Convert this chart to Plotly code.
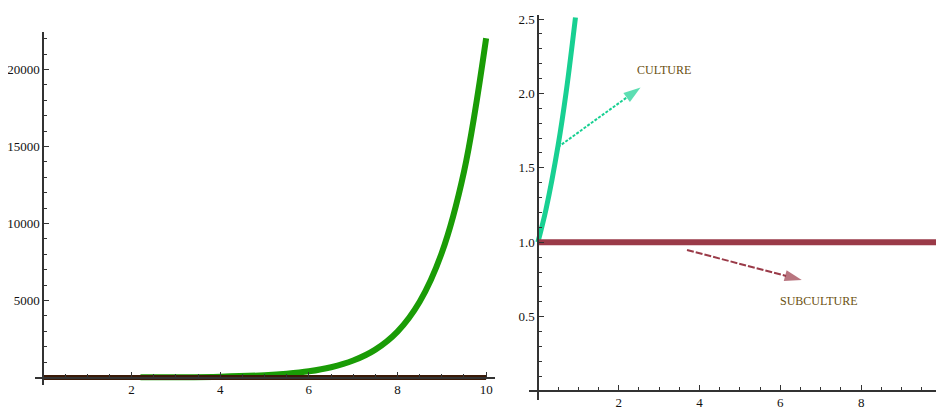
import plotly.graph_objects as go

# page is opened at 944x414; the HTML body adds an 8px margin, so the figure is 8px smaller
PAGE_W, PAGE_H = 944, 414
OFF = 8
W, H = PAGE_W - OFF, PAGE_H - OFF

# ---------------- data ----------------
# left panel
growth_x = [2.2, 3, 4, 5, 5.5, 6, 6.5, 7, 7.5, 8, 8.5, 9, 9.5, 10]
growth_y = [9, 20, 55, 150, 245, 400, 665, 1100, 1810, 2980, 4920, 8100, 13360, 22030]
base_x = [0, 10]
base_y = [0, 0]
left_xticks = [2, 4, 6, 8, 10]
left_yticks = [5000, 10000, 15000, 20000]

# right panel
culture_x = [0, 0.2, 0.5, 0.7, 0.93]
culture_y = [1.0, 1.22, 1.65, 2.01, 2.51]
subculture_x = [0, 10.1]
subculture_y = [1.0, 1.0]
right_xticks = [2, 4, 6, 8, 10]
right_yticks = [0.5, 1.0, 1.5, 2.0, 2.5]

culture_arrow_x = [0.50, 2.54]
culture_arrow_y = [1.64, 2.04]
sub_arrow_x = [3.69, 6.53]
sub_arrow_y = [0.948, 0.746]

label_text = ["CULTURE", "SUBCULTURE"]
label_x = [3.12, 6.96]
label_y = [2.16, 0.605]

# ---------------- colours ----------------
GREEN = "#1a9c06"
BROWN = "#3b1a08"
TEAL = "#18d092"
MAROON = "#9a3a48"
OLIVE = "#6a500f"
AXIS = "#333333"
FONT = "Liberation Serif"

fig = go.Figure()

# left traces
fig.add_trace(go.Scatter(x=growth_x, y=growth_y, mode="lines", line=dict(color=GREEN, width=6, shape="spline"),
                         xaxis="x", yaxis="y", showlegend=False, hoverinfo="skip"))
fig.add_trace(go.Scatter(x=base_x, y=base_y, mode="lines", line=dict(color=BROWN, width=5),
                         xaxis="x", yaxis="y", showlegend=False, hoverinfo="skip"))

# right traces
fig.add_trace(go.Scatter(x=culture_x, y=culture_y, mode="lines", line=dict(color=TEAL, width=5, shape="spline"),
                         xaxis="x2", yaxis="y2", showlegend=False, hoverinfo="skip"))
fig.add_trace(go.Scatter(x=subculture_x, y=subculture_y, mode="lines", line=dict(color=MAROON, width=6),
                         xaxis="x2", yaxis="y2", showlegend=False, hoverinfo="skip"))

# arrows
for ax_, ay_, col, dash in [(culture_arrow_x, culture_arrow_y, TEAL, "3px,1.5px"),
                            (sub_arrow_x, sub_arrow_y, MAROON, "7px,2px")]:
    fig.add_trace(go.Scatter(x=ax_, y=ay_, mode="lines+markers",
                             line=dict(color=col, width=2, dash=dash),
                             marker=dict(symbol="arrow", size=[0, 18], color=col, angleref="previous",
                                         line=dict(width=0)),
                             xaxis="x2", yaxis="y2", showlegend=False, hoverinfo="skip"))

for t, x, y in zip(label_text, label_x, label_y):
    fig.add_annotation(x=x, y=y, xref="x2", yref="y2", text=t, showarrow=False,
                       font=dict(family=FONT, size=12, color=OLIVE))

# ---------------- axes geometry (page-pixel based) ----------------
def fx(px):
    return (px - OFF) / W

def fy(py):
    return (H - (py - OFF)) / H

common = dict(showline=True, linecolor=AXIS, linewidth=1.5, ticks="inside", tickcolor=AXIS,
              ticklen=5, tickwidth=1, showgrid=False, zeroline=False, ticklabeloverflow="allow",
              tickfont=dict(family=FONT, size=13, color="#111111"))

fig.update_layout(
    # left panel: x=0 at px 43, 44.3 px/unit ; y=0 at py 377.5
    xaxis=dict(domain=[fx(35), fx(495)], range=[-0.18, 10.2], anchor="free", position=fy(377.5),
               tickmode="array", tickvals=left_xticks,
               minor=dict(dtick=0.5, tick0=0, ticks="inside", ticklen=3, tickcolor=AXIS), **common),
    yaxis=dict(domain=[fy(385), fy(32)], range=[-487, 22435], anchor="free", position=fx(43),
               tickmode="array", tickvals=left_yticks, tickformat="d",
               minor=dict(dtick=1000, tick0=0, ticks="inside", ticklen=3, tickcolor=AXIS), **common),
    # right panel: x=0 at px 538, 40.4 px/unit ; y=0 at py 391
    xaxis2=dict(domain=[fx(529), 1.0], range=[-0.22, 10.05], anchor="free", position=fy(391),
                tickmode="array", tickvals=right_xticks,
                minor=dict(dtick=0.5, tick0=0, ticks="inside", ticklen=3, tickcolor=AXIS), **common),
    yaxis2=dict(domain=[fy(400), fy(15)], range=[-0.06, 2.527], anchor="free", position=fx(538),
                tickmode="array", tickvals=right_yticks, tickformat=".1f",
                minor=dict(dtick=0.1, tick0=0, ticks="inside", ticklen=3, tickcolor=AXIS), **common),
    width=W, height=H,
    margin=dict(l=0, r=0, t=0, b=0, autoexpand=False),
    paper_bgcolor="white", plot_bgcolor="white",
    showlegend=False,
)

fig.write_html("out.html")
